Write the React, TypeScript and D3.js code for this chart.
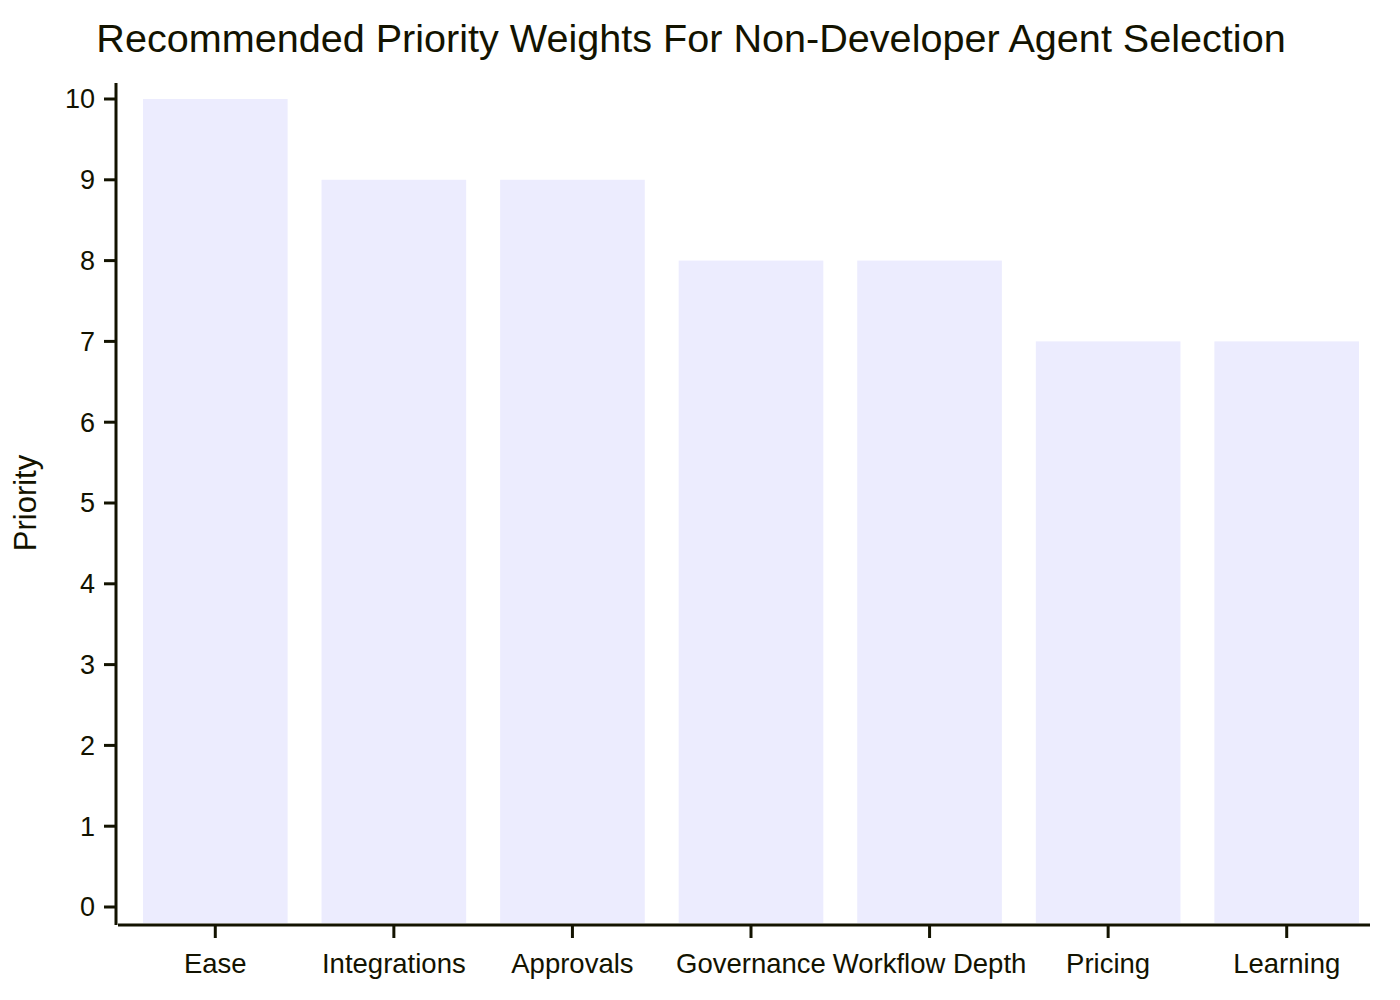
import React from "react";
import * as d3 from "d3";

const categories = ["Ease", "Integrations", "Approvals", "Governance", "Workflow Depth", "Pricing", "Learning"];
const priorities = [10, 9, 9, 8, 8, 7, 7];
const yTicks = [0, 1, 2, 3, 4, 5, 6, 7, 8, 9, 10];

const title = "Recommended Priority Weights For Non-Developer Agent Selection";
const yLabel = "Priority";

const W = 1400;
const H = 1000;
const ink = "#131300";
const barFill = "#ECECFE";
const font = "'Liberation Sans', Arial, sans-serif";

export default function App() {
  const x = d3
    .scaleBand()
    .domain(categories)
    .range([126, 1376])
    .paddingInner(0.19)
    .paddingOuter(0.095);
  const y = d3.scaleLinear().domain([0, 10]).range([907, 99]);
  const base = 923;

  return (
    <svg width={W} height={H} style={{ position: "absolute", left: 0, top: 0 }} fontFamily={font}>
      <rect width={W} height={H} fill="#fff" />
      <text x={691} y={52} textAnchor="middle" fontSize={39.6} fill={ink}>
        {title}
      </text>

      {/* bars */}
      {categories.map((c, i) => (
        <rect
          key={c}
          x={x(c)}
          y={y(priorities[i])}
          width={x.bandwidth()}
          height={base - y(priorities[i])}
          fill={barFill}
        />
      ))}

      {/* y axis */}
      <line x1={116} x2={116} y1={83} y2={925} stroke={ink} strokeWidth={3} />
      {yTicks.map((t) => (
        <g key={t}>
          <line x1={104} x2={116} y1={y(t)} y2={y(t)} stroke={ink} strokeWidth={3} />
          <text x={95} y={y(t)} dy="0.35em" textAnchor="end" fontSize={27} fill={ink}>
            {t}
          </text>
        </g>
      ))}
      <text
        transform={`translate(36,503) rotate(-90)`}
        textAnchor="middle"
        fontSize={31}
        fill={ink}
      >
        {yLabel}
      </text>

      {/* x axis */}
      <line x1={118} x2={1370} y1={925} y2={925} stroke={ink} strokeWidth={3} />
      {categories.map((c) => {
        const cx = (x(c) as number) + x.bandwidth() / 2;
        return (
          <g key={c}>
            <line x1={cx} x2={cx} y1={925} y2={938} stroke={ink} strokeWidth={3} />
            <text x={cx} y={973} textAnchor="middle" fontSize={27.5} fill={ink}>
              {c}
            </text>
          </g>
        );
      })}
    </svg>
  );
}
